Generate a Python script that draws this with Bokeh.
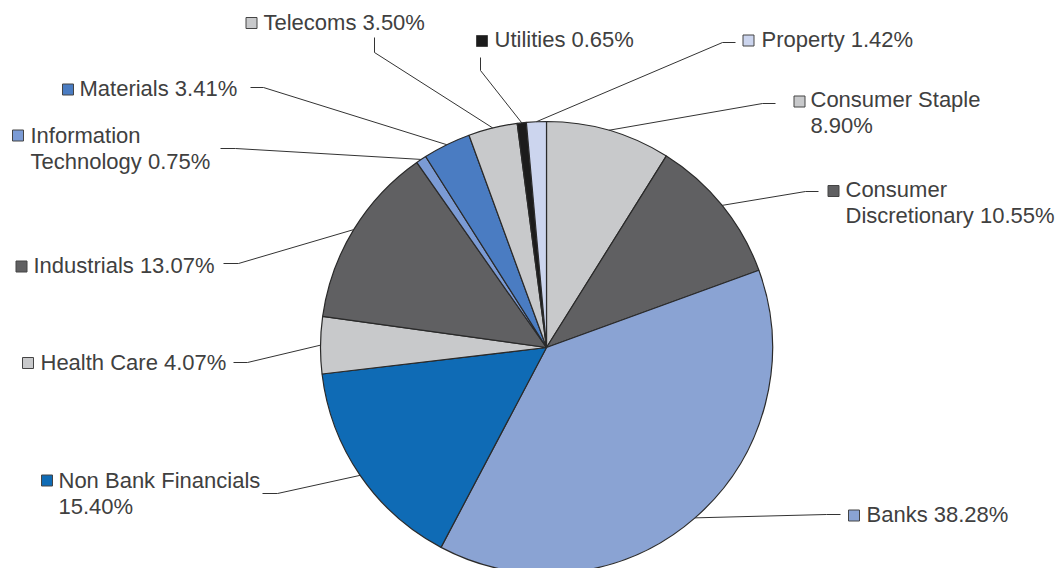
import math
from bokeh.plotting import figure
from bokeh.models import Range1d, ColumnDataSource
from bokeh.core.properties import value
from bokeh.embed import file_html
from bokeh.resources import INLINE

# ---- data (clockwise from 12 o'clock) ----
categories = ["Consumer Staple", "Consumer Discretionary", "Banks", "Non Bank Financials",
              "Health Care", "Industrials", "Information Technology", "Materials",
              "Telecoms", "Utilities", "Property"]
shares = [8.90, 10.55, 38.28, 15.40, 4.07, 13.07, 0.75, 3.41, 3.50, 0.65, 1.42]
colors = ["#c8c9cb", "#606062", "#8aa3d3", "#0f6bb5", "#c8c9cb", "#606062",
          "#7b9bd5", "#4a7cc2", "#c8c9cb", "#1c1c1c", "#ccd5ee"]

# ---- layout (reference pixel coordinates) ----
W, H = 1057, 568
def Y(v):
    return H - v

cx, cy, R = 546, Y(347), 226
# words on first line (None = single line)
first_line_words = [2, 1, None, 3, None, None, 1, None, None, None, None]
square_xy = [(799, 101), (833, 190.5), (853.5, 515), (46.5, 480), (27.5, 362.5), (21, 266),
             (17.5, 135), (67.5, 89), (251, 22.5), (481.5, 40.5), (748, 40)]
text_x = [810, 845, 866, 58, 40, 33, 30, 79, 263, 494, 761]
baseline_y = [107, 197, 522, 488, 370, 273, 143, 96, 30, 47, 47]
baseline_fix = -8
line_gap = 26
stub_start = [(775, 103), (818, 191), (840, 514), (262, 493), (233, 362), (223, 263),
              (220, 148), (250, 87), (374, 37), (480, 57), (735, 42)]
stub_end = [(762, 103), (805, 191), (826, 514), (277, 493), (247, 362), (238, 263),
            (235, 148), (263, 87), (374, 52), (480, 70), (722, 42)]

p = figure(width=W, height=H, x_range=Range1d(0, W), y_range=Range1d(0, H),
           output_backend="svg", toolbar_location=None, min_border=0)
p.axis.visible = False
p.grid.visible = False
p.outline_line_color = None
p.background_fill_color = "white"

total = sum(shares)
starts, ends, mids = [], [], []
c = 0.0
for s in shares:
    c0, c1 = c / total, (c + s) / total
    starts.append(math.pi / 2 - 2 * math.pi * c1)
    ends.append(math.pi / 2 - 2 * math.pi * c0)
    mids.append(math.pi / 2 - 2 * math.pi * (c0 + c1) / 2)
    c += s

src = ColumnDataSource(dict(start=starts, end=ends, color=colors))
p.wedge(x=cx, y=cy, radius=R, start_angle="start", end_angle="end", direction="anticlock",
        fill_color="color", line_color="#2a2a2a", line_width=1.2, source=src)

# leader lines
xs, ys = [], []
for i, m in enumerate(mids):
    rx, ry = cx + R * math.cos(m), cy + R * math.sin(m)
    xs.append([stub_start[i][0], stub_end[i][0], rx])
    ys.append([Y(stub_start[i][1]), Y(stub_end[i][1]), ry])
p.multi_line(xs=xs, ys=ys, line_color="#333333", line_width=1)

# legend squares
p.rect(x=[q[0] for q in square_xy], y=[Y(q[1]) for q in square_xy], width=11, height=11,
       fill_color=colors, line_color="#444444", line_width=1)

# texts
tx, ty, tt = [], [], []
for i, name in enumerate(categories):
    full = f"{name} {shares[i]:.2f}%"
    words = full.split(" ")
    n = first_line_words[i]
    lines = [full] if n is None else [" ".join(words[:n]), " ".join(words[n:])]
    for k, ln in enumerate(lines):
        tx.append(text_x[i])
        ty.append(Y(baseline_y[i] + baseline_fix + k * line_gap))
        tt.append(ln)
p.text(x=tx, y=ty, text=tt, text_font=value("Liberation Sans"), text_font_size="22px",
       text_color="#404040", text_baseline="alphabetic", text_align="left")

open("out.html", "w").write(file_html(p, INLINE))
